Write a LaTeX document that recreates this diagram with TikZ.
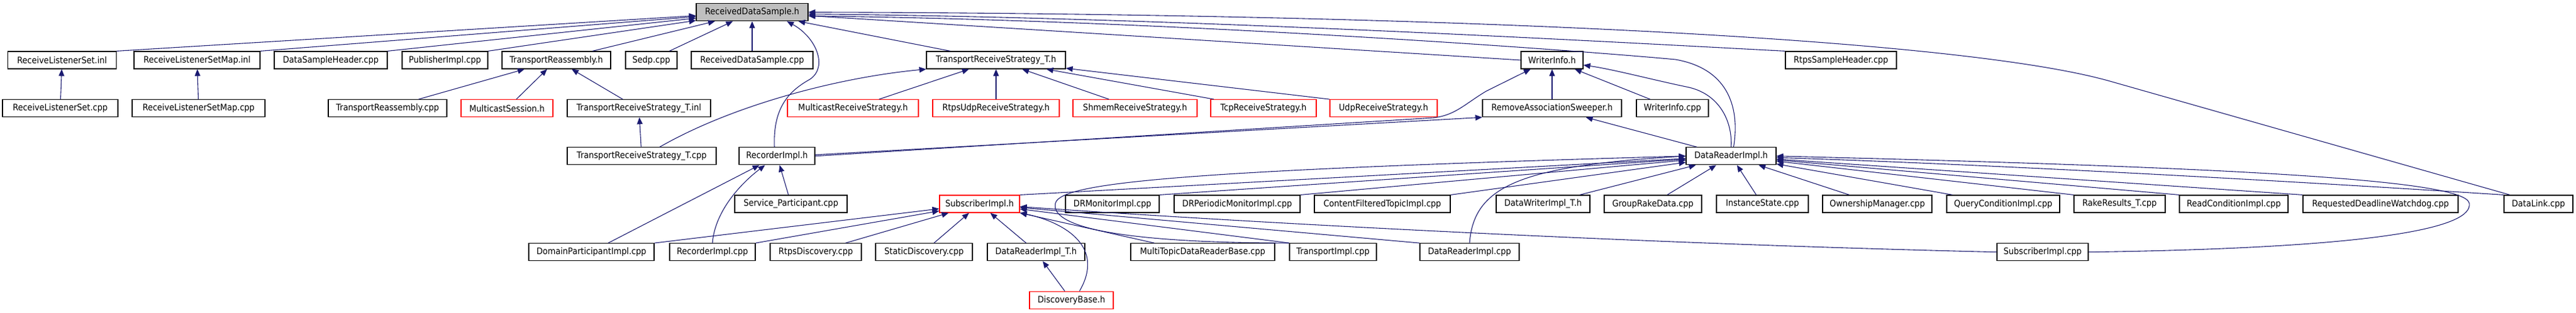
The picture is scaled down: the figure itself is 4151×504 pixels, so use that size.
\documentclass[tikz,border=0pt]{standalone}
\usepackage{fontspec}
\setmainfont{DejaVu Sans}[FakeStretch=0.9]
\usepackage{tikz}
\usetikzlibrary{positioning, arrows.meta}
\definecolor{edgeblue}{HTML}{191970}
\definecolor{topgray}{HTML}{BFBFBF}

\begin{document}
\begin{tikzpicture}[x=1pt, y=1pt,
  file/.style={draw=black, line width=1.2pt, minimum height=28pt, inner sep=0pt, font=\fontsize{14.5pt}{17pt}\selectfont},
  redfile/.style={file, draw=red},
  topfile/.style={file, fill=topgray},
  dep/.style={draw=edgeblue, line width=1.1pt, -{Triangle[length=11pt, width=9pt]}}]

\useasboundingbox (0,0) rectangle (4151,-504);

% top
\node[topfile, minimum width=180] (rds) at (1212,-19.7) {ReceivedDataSample.h};

% row 1
\node[file, minimum width=175] (rlsInl) at (100,-97) {ReceiveListenerSet.inl};
\node[file, minimum width=203] (rlsmInl) at (317.5,-97) {ReceiveListenerSetMap.inl};
\node[file, minimum width=182] (dsh) at (533,-97) {DataSampleHeader.cpp};
\node[file, minimum width=138] (pub) at (717,-97) {PublisherImpl.cpp};
\node[file, minimum width=175] (trh) at (896.5,-97) {TransportReassembly.h};
\node[file, minimum width=83] (sedp) at (1049.5,-97) {Sedp.cpp};
\node[file, minimum width=196] (rdsc) at (1212,-97) {ReceivedDataSample.cpp};
\node[file, minimum width=224] (trsH) at (1605,-97) {TransportReceiveStrategy\_T.h};
\node[file, minimum width=100] (wiH) at (2501,-97) {WriterInfo.h};
\node[file, minimum width=179] (rsh) at (2966.5,-97) {RtpsSampleHeader.cpp};

% row 2
\node[file, minimum width=186] (rlsCpp) at (97,-174.7) {ReceiveListenerSet.cpp};
\node[file, minimum width=214] (rlsmCpp) at (320,-174.7) {ReceiveListenerSetMap.cpp};
\node[file, minimum width=191] (trc) at (624.5,-174.7) {TransportReassembly.cpp};
\node[redfile, minimum width=148] (ms) at (817,-174.7) {MulticastSession.h};
\node[file, minimum width=231] (trsInl) at (1029.5,-174.7) {TransportReceiveStrategy\_T.inl};
\node[redfile, minimum width=211] (mrs) at (1374.5,-174.7) {MulticastReceiveStrategy.h};
\node[redfile, minimum width=204] (rus) at (1605,-174.7) {RtpsUdpReceiveStrategy.h};
\node[redfile, minimum width=200] (srs) at (1829,-174.7) {ShmemReceiveStrategy.h};
\node[redfile, minimum width=170] (tcp) at (2036,-174.7) {TcpReceiveStrategy.h};
\node[redfile, minimum width=173] (udp) at (2229.5,-174.7) {UdpReceiveStrategy.h};
\node[file, minimum width=224] (ras) at (2501,-174.7) {RemoveAssociationSweeper.h};
\node[file, minimum width=116] (wic) at (2695,-174.7) {WriterInfo.cpp};

% row 3
\node[file, minimum width=240] (trsCpp) at (1034,-251.8) {TransportReceiveStrategy\_T.cpp};
\node[file, minimum width=122] (recH) at (1252,-251.8) {RecorderImpl.h};
\node[file, minimum width=145] (drH) at (2789.5,-251.8) {DataReaderImpl.h};

% row 4
\node[file, minimum width=181] (sp) at (1274.5,-329) {Service\_Participant.cpp};
\node[redfile, minimum width=129] (subH) at (1578.5,-329) {SubscriberImpl.h};
\node[file, minimum width=151] (drm) at (1792.5,-329) {DRMonitorImpl.cpp};
\node[file, minimum width=203] (drp) at (1993.5,-329) {DRPeriodicMonitorImpl.cpp};
\node[file, minimum width=219] (cft) at (2227.5,-329) {ContentFilteredTopicImpl.cpp};
\node[file, minimum width=151] (dwT) at (2486.5,-329) {DataWriterImpl\_T.h};
\node[file, minimum width=157] (grd) at (2663.5,-329) {GroupRakeData.cpp};
\node[file, minimum width=148] (is) at (2840,-329) {InstanceState.cpp};
\node[file, minimum width=176] (om) at (3025,-329) {OwnershipManager.cpp};
\node[file, minimum width=182] (qc) at (3228,-329) {QueryConditionImpl.cpp};
\node[file, minimum width=147] (rr) at (3415.5,-329) {RakeResults\_T.cpp};
\node[file, minimum width=175] (rc) at (3599.5,-329) {ReadConditionImpl.cpp};
\node[file, minimum width=250] (rdw) at (3836,-329) {RequestedDeadlineWatchdog.cpp};
\node[file, minimum width=111] (dl) at (4090.5,-329) {DataLink.cpp};

% row 5
\node[file, minimum width=202] (dpi) at (953,-406.7) {DomainParticipantImpl.cpp};
\node[file, minimum width=138] (recC) at (1148,-406.7) {RecorderImpl.cpp};
\node[file, minimum width=147] (rtd) at (1314.5,-406.7) {RtpsDiscovery.cpp};
\node[file, minimum width=156] (sd) at (1489,-406.7) {StaticDiscovery.cpp};
\node[file, minimum width=157] (drT) at (1669.5,-406.7) {DataReaderImpl\_T.h};
\node[file, minimum width=232] (mtd) at (1938,-406.7) {MultiTopicDataReaderBase.cpp};
\node[file, minimum width=140] (ti) at (2148,-406.7) {TransportImpl.cpp};
\node[file, minimum width=160] (drC) at (2368,-406.7) {DataReaderImpl.cpp};
\node[file, minimum width=147] (subC) at (3291.5,-406.7) {SubscriberImpl.cpp};

% row 6
\node[redfile, minimum width=135] (db) at (1726.5,-484.2) {DiscoveryBase.h};

% into ReceivedDataSample.h
\draw[dep] (rlsInl.north east) -- (rds);
\draw[dep] (rlsmInl.north east) -- (rds);
\draw[dep] (dsh.north east) -- (rds);
\draw[dep] (pub.north east) -- (rds);
\draw[dep] ([xshift=-30]trh.north east) -- (rds);
\draw[dep] ([xshift=-13]sedp.north east) -- (rds);
\draw[dep] (rdsc) -- (rds);
\draw[dep] ([xshift=-4]recH.north) .. controls (1245,-170) and (1275,-145) .. (1305,-128) .. controls (1335,-108) and (1315,-60) .. ([xshift=56]rds.south);
\draw[dep] ([xshift=39]trsH.north west) -- (rds);
\draw[dep] (wiH.west) -- (rds);
\draw[dep] (rsh.north west) .. controls (2600,-68) and (1900,-28) .. ([yshift=-3]rds.east);
\draw[dep] ([xshift=4]drH.north) .. controls (2803,-180) and (2790,-112) .. (2700,-96) .. controls (2550,-82) and (1900,-33) .. ([yshift=-6]rds.east);
\draw[dep] ([xshift=10]dl.north west) -- (3400,-131) .. controls (3150,-60) and (2300,-22) .. (rds.east);

% row 1 includes
\draw[dep] (rlsCpp) -- (rlsInl);
\draw[dep] (rlsmCpp) -- (rlsmInl);
\draw[dep] ([xshift=50]trc.north) -- (trh);
\draw[dep] ([xshift=15]ms.north) -- (trh);
\draw[dep] ([xshift=-26]trsInl.north) -- (trh);
\draw[dep] (trsCpp) -- (trsInl);
\draw[dep] ([xshift=29]trsCpp.north) .. controls (1180,-170) and (1350,-125) .. (trsH.south west);
\draw[dep] ([xshift=42]mrs.north) -- (trsH);
\draw[dep] (rus) -- (trsH);
\draw[dep] ([xshift=-42]srs.north) -- (trsH);
\draw[dep] ([xshift=-80]tcp.north) -- (trsH);
\draw[dep] (udp.north west) -- (trsH);

% WriterInfo.h and sweeper
\draw[dep] (ras) -- (wiH);
\draw[dep] ([xshift=-36]wic.north) -- (wiH);
\draw[dep] (recH.east) -- (2310,-190) .. controls (2345,-186) and (2360,-168) .. (2395,-147) -- ([xshift=16]wiH.south west);
\draw[dep] ([yshift=2]recH.east) -- (ras.south west);
\draw[dep] (drH.north) .. controls (2792,-195) and (2770,-150) .. (2717,-140) .. controls (2660,-128) and (2600,-112) .. ([yshift=-8]wiH.east);
\draw[dep] ([xshift=18]drH.north west) -- (ras);

% RecorderImpl.h
\draw[dep] ([xshift=27]dpi.north) -- (recH);
\draw[dep] (recC.north) .. controls (1152,-340) and (1195,-295) .. (recH);
\draw[dep] ([xshift=-4]sp.north) -- (recH);

% SubscriberImpl.h
\draw[dep] (dpi.north east) -- (subH);
\draw[dep] (recC.north east) -- (subH);
\draw[dep] ([xshift=48]rtd.north) -- (subH);
\draw[dep] ([xshift=16]sd.north) -- (subH);
\draw[dep] ([xshift=-16]drT.north) -- (subH);
\draw[dep] ([xshift=-78]mtd.north) -- (subH);
\draw[dep] (ti.north west) -- (subH);
\draw[dep] (drC.north west) -- (subH);
\draw[dep] (subC.west) .. controls (2600,-392) and (2000,-358) .. (subH);
\draw[dep] ([xshift=13]db.north) .. controls (1780,-400) and (1720,-360) .. (subH);
\draw[dep] (db) -- (drT);

% DataReaderImpl.h
\draw[dep] (subH.north east) -- (drH);
\draw[dep] (drm.north east) -- (drH);
\draw[dep] (drp.north east) -- (drH);
\draw[dep] (cft.north east) -- (drH);
\draw[dep] ([xshift=59]dwT.north) -- (drH);
\draw[dep] ([xshift=23]grd.north) -- (drH);
\draw[dep] ([xshift=-10]is.north) -- (drH);
\draw[dep] ([xshift=-45]om.north) -- (drH);
\draw[dep] ([xshift=10]qc.north west) -- (drH);
\draw[dep] (rr.north west) -- (drH);
\draw[dep] (rc.north west) -- (drH);
\draw[dep] (rdw.north west) -- (drH);
\draw[dep] (dl.north west) .. controls (3500,-280) and (3100,-262) .. (drH);
\draw[dep] (drC.north) .. controls (2375,-300) and (2450,-268) .. (drH.west);
\draw[dep] (ti.north west) .. controls (1800,-392) and (1690,-365) .. (1701,-327) .. controls (1712,-295) and (1900,-275) .. (drH.west);
\draw[dep] (subC.east) .. controls (3850,-400) and (3985,-365) .. (3979,-328) .. controls (3973,-290) and (3600,-270) .. (drH.east);

\end{tikzpicture}
\end{document}
